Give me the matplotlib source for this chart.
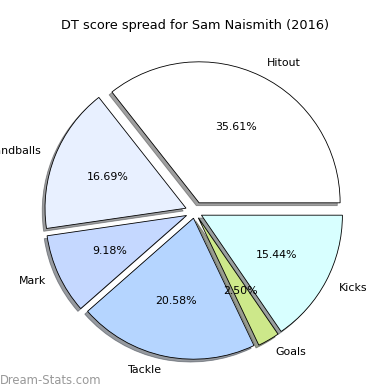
import matplotlib
matplotlib.use("Agg")
import matplotlib.pyplot as plt

labels = ["Hitout", "Handballs", "Mark", "Tackle", "Goals", "Kicks"]
values = [35.61, 16.69, 9.18, 20.58, 2.50, 15.44]
colors = ["#ffffff", "#e8f0ff", "#c5d8ff", "#b5d5ff", "#cde88a", "#d8ffff"]
explode = [0.07, 0.067, 0.064, 0.047, 0.05, 0.053]

fig = plt.figure(figsize=(3.9, 3.9), dpi=100)
ax = fig.add_axes([0, 0, 1, 1])
R = 141.0
cx, cy = 194.8, 390 - 211.7
ax.pie(values, labels=labels, colors=colors, explode=explode, autopct="%.2f%%",
       startangle=0, shadow=dict(ox=-0.0144, oy=-0.0144, shade=0.75), radius=1.0,
       wedgeprops=dict(edgecolor="black", linewidth=0.6),
       textprops=dict(fontsize=7.9))
ax.set_xlim(-cx / R, (390 - cx) / R)
ax.set_ylim(-cy / R, (390 - cy) / R)
ax.set_aspect("equal")
ax.axis("off")
fig.text(0.5, 1 - 25 / 390, "DT score spread for Sam Naismith (2016)", ha="center", va="center", fontsize=9.3)
fig.text(0.0, 1 - 380 / 390, "Dream-Stats.com", ha="left", va="center", fontsize=8.4, color="#999999")
fig.savefig("out.png", dpi=100)
